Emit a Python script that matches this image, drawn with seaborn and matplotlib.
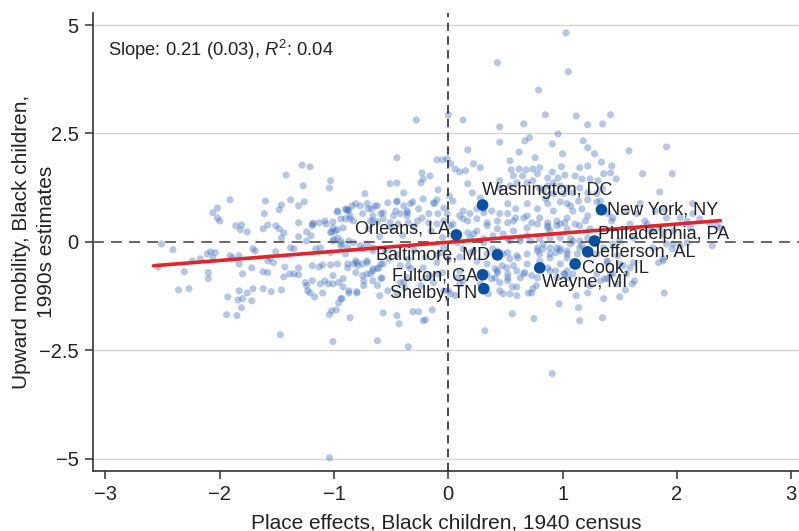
import matplotlib
matplotlib.use("Agg")
import matplotlib.pyplot as plt
import seaborn as sns
import numpy as np
import pandas as pd

# ---------------- data ----------------
counties_x = [
    -2.51, -2.41, -2.06, -2.02, -2.02, -2.00, -1.91, -1.86, -1.81, -1.82, -1.76, -1.60, -1.61, -1.62, -1.58,
    -1.51, -1.48, -1.48, -1.46, -1.42, -1.38, -1.31, -1.31, -1.28, -1.21, -1.27, -1.26, -1.24, -1.19, -1.18,
    -1.20, -1.13, -1.08, -1.07, -1.03, -1.04, -1.01, -1.02, -0.97, -0.97, -0.89, -0.87, -0.86, -0.81, -0.77,
    -0.71, -0.67, -0.64, -0.73, -0.51, -0.45, -0.45, -0.45, -0.59, -0.62, -0.68, -0.94, -1.00, -1.12, -1.16,
    -1.35, -1.38, -1.51, -1.71, -1.69, -1.83, -2.08, -2.11, -2.17, -2.24,
    -2.54, -2.31, -2.10, -2.10, -2.36, -2.27, -1.93, -1.94, -1.85, -1.83, -1.84, -1.80, -1.81, -1.76, -1.71,
    -1.72, -1.83, -1.80, -1.72, -1.62, -1.58, -1.62, -1.55, -1.46, -1.47, -1.43, -1.44, -1.39, -1.35, -1.31,
    -1.31, -1.25, -1.24, -1.23, -1.21, -1.17, -1.19, -1.19, -1.12, -1.10, -1.08, -1.05, -1.13, -1.10, -1.03,
    -0.97, -1.01, -0.96, -0.92, -0.87, -0.80, -0.96, -0.93, -1.04, -1.02, -0.98, -1.01, -0.86, -1.04, -0.74,
    -0.75, -0.71, -0.68, -0.66, -0.61, -0.59, -0.58, -0.60, -0.57, -0.62, -0.45, -0.43, -0.83, -0.79, -0.75,
    -0.71,
    -0.10, -0.05, -0.01, 0.02, 0.06, 0.10, 0.15, 0.22, 0.28, -0.23, -0.24, -0.22, -0.16, -0.39, -0.09,
    -0.45, -0.39, -0.33, -0.31, -0.36, -0.42, -0.48, -0.17, -0.23, -0.27, -0.88, -0.90, -0.83, -0.57, -0.66,
    -0.57, -0.51, -0.36, -0.35, -0.44, -0.17, -0.10, 0.04, 0.13, 0.31, 0.52, 0.57, 0.69, 0.54,
    1.03, 0.43, 1.05, 0.79, -0.28, 0.00, 0.13, 0.45, 0.85, 1.12, 0.66, 1.22, 1.35, 1.42, 0.45,
    0.67, 0.71, 0.96, 0.91, 1.18, 1.22, 1.58, 1.91, 0.62, 0.76, 1.00, 1.28, 0.17, 0.99, 0.55,
    0.62, 0.68, 0.74, 0.80, 0.57, 0.65, 0.78, 0.87, 0.91, 0.96, 1.02, 1.11, 1.17, 1.22, 1.34,
    1.43, 1.36, 1.24, 1.47, 1.70, 1.96, 1.85, 2.14, 0.45, 0.45, 0.54, 0.60, 0.69, 0.74, 0.80,
    0.87, 0.92, 0.98, 1.04, 1.09, 1.01, 0.92, 0.85, 1.15, 1.22, 1.30, 1.35, 1.22, 1.33, 0.17,
    0.21, 0.28, 0.01, 0.04, -0.10, -0.12, -0.04, -0.01, -0.04, -0.09, 0.13, 0.19, 0.25, 0.31, 0.38,
    0.45, 0.52, 0.59, 0.69, 0.78, 0.87, 0.92, 0.98, 1.04, 1.09, 1.17, 1.30, 1.40, 1.44, 1.68,
    1.81, 1.88, 1.91, 2.03, 2.09, 2.14, 2.20, 2.29, 2.31, 2.35, 2.38, 0.17, 0.25, 0.34, 0.43,
    0.52, 0.59, 0.66, 0.73, 0.80, 0.87, 0.95, 1.02, 1.11, 1.20, 1.59, 1.72, 1.79, 1.88, 0.22,
    0.31, 0.39, 0.48, 0.54, 0.63, 0.72, 0.78, 0.83, 0.89, 0.95, 1.04, 1.09, 1.15, 1.22, 1.36,
    1.44, 1.50, 1.62, 1.79, 1.91,
    1.15, 1.42, 1.31, 0.83, 1.07, 1.14, 1.22, 1.04, 0.98, 0.87, 1.43, 1.56, 1.65, 1.74, 1.77,
    1.85, 1.97, 2.12,
    0.91, 0.32, 0.56, 0.75, 1.15, 1.14, 1.35, 0.97, 1.36, 1.50, 1.89, -0.35, -0.31, -0.26, -0.14,
    -0.22, -0.20, 0.45, 0.48, 0.60, 0.70, 0.73, 0.56, 0.60, 0.77, 1.12, 1.22, 1.24, 1.33, 1.39,
    1.44, 1.56, 1.61, 1.63, 1.55, 0.08, 0.10, 0.06, 0.00, 0.38, 0.43, 0.41, 0.47, 0.52, 0.45,
    0.41, 0.51, 0.67, 0.73, 0.78, 0.87, 0.94, 1.01, 0.95, 1.05, 1.09, 1.39, 1.50, 1.62, 1.84,
    1.88, -0.42, -0.35, -0.36, -0.24, -0.20, -0.13, -0.09, -0.05, -0.42, -0.38,
    -0.87, -0.80, -0.94, -0.81, -0.62, -0.57, -0.62, -0.53, -0.45, -0.39, -0.88, -0.93, -0.88, -0.83, -0.77,
    -0.71, -0.66, 0.31, 0.43, 0.48, 0.54, 0.61, 0.69, 0.78, 0.80, 0.63, 0.57, 0.52, 0.54, 0.74,
    0.34, 0.35, 0.28, 0.02, -0.04,
    1.88, 1.96, 1.97, 2.03, 2.09, 1.59, 0.83, 0.89, 0.94, 0.98, 1.07, 1.13, 1.17, 1.04, 1.02,
    1.30, 1.39, 1.48, 1.53, 1.30, 1.37, 1.42, 1.48,
    -2.04, -2.06, -1.91, -1.89, -1.58, -1.53, -1.56,
    -1.44, -1.46, -1.19, -1.31, -1.24, -1.01, -1.03, -0.99, -0.97, -1.01,
    -0.97, -0.90, -0.84, -0.70, -0.62, -0.53, -0.22, -0.13, -0.26, -0.36, -0.46, -0.66, -0.75, -0.86, -0.94,
    -0.92, -0.94, -0.87, -0.90, -0.88, -0.81, -0.66, -0.59, -0.52, -0.71, -0.80, -1.01, -0.92, -0.74, -0.66,
    -0.33, -0.22, -0.16, -0.10, -0.07, -0.04, 0.08, 0.13, 0.17, 0.10, -1.03, -0.66, -0.75,
    -0.70, -0.50, -0.30, -0.15, -0.40, -0.60, -0.05,
    -0.55, -0.45, -0.30, -0.20, -0.10, 0.00, 0.10, 0.20, 0.25, -0.35,
    0.02, 0.25, 0.34, 0.43, 0.57, 0.69, 0.78, 0.87, 0.89, 0.95, 1.04, 1.15, 1.24, 0.19, 0.52,
    0.63, 0.69, 0.80, 0.89, 0.98, 1.07, 1.15, 0.22, 0.34, 0.39, 0.52, 0.60, 0.80, 0.89, 0.98,
    1.04, 0.34, 0.43, 0.60, 0.69, 0.66, 0.89, 0.98, 1.04, 0.10, 0.13, 0.52,
]
counties_y = [
    -0.05, -0.18, 0.67, 0.78, 0.55, 0.48, 0.97, 0.37, 0.39, 0.28, 0.23, 0.94, 0.65, 0.30, 0.39,
    0.37, 0.30, 0.74, 0.85, 1.54, 0.97, 0.83, 0.44, 1.77, 1.73, 1.29, 0.92, 0.23, 0.41, 0.43,
    0.14, 0.44, 0.48, 0.41, 1.41, 1.24, 0.32, 0.23, 0.28, 0.69, 0.74, 0.74, 0.53, 0.88, 0.83,
    0.88, 0.76, 0.83, 1.11, 1.34, 1.36, 1.94, 0.94, 0.65, 0.46, 0.48, 0.02, 0.05, -0.14, -0.16,
    -0.16, -0.14, -0.23, -0.16, -0.21, -0.32, -0.23, -0.28, -0.39, -0.44,
    -0.58, -0.69, -0.71, -0.85, -1.11, -1.08, -1.27, -1.68, -1.70, -1.13, -1.34, -1.31, -1.52, -1.18, -1.08,
    -1.36, -0.51, -0.74, -0.60, -0.69, -0.71, -1.08, -1.15, -1.11, -2.14, -0.58, -0.81, -0.74, -0.74, -0.60,
    -0.76, -0.94, -1.01, -1.13, -1.18, -1.27, -0.55, -0.90, -0.97, -1.18, -0.90, -0.97, -0.58, -0.53, -0.53,
    -0.51, -0.97, -0.94, -1.04, -1.18, -1.15, -1.41, -1.31, -1.68, -1.59, -1.57, -2.30, -1.75, -4.98, -0.90,
    -0.78, -0.74, -0.74, -0.67, -0.60, -0.85, -0.83, -1.24, -1.64, -2.28, -1.70, -1.89, -0.51, -0.55, -0.51,
    -0.48,
    1.89, 1.89, 1.91, 1.80, 1.68, 1.61, 1.64, 1.80, 1.71, 1.59, 1.36, 1.45, 1.52, 1.13, 1.20,
    0.92, 0.83, 0.88, 0.92, 0.71, 0.65, 0.60, 0.65, 0.55, 0.48, 0.71, 0.53, 0.48, 0.67, 0.48,
    0.53, 0.44, 0.60, 0.44, 0.41, 0.44, 0.41, 0.41, 0.53, 0.67, 0.65, 0.48, 0.60, 1.87,
    4.82, 4.13, 3.92, 3.50, 2.81, 2.93, 2.81, 2.65, 2.93, 2.90, 2.72, 2.70, 2.72, 2.93, 2.30,
    2.33, 2.40, 2.49, 2.26, 2.33, 2.17, 2.10, 2.19, 2.07, 1.94, 2.03, 2.03, 2.12, 1.73, 1.66,
    1.68, 1.66, 1.68, 1.71, 1.52, 1.52, 1.57, 1.47, 1.61, 1.47, 1.54, 1.52, 1.45, 1.75, 1.84,
    1.75, 1.57, 1.45, 1.45, 1.57, 1.57, 1.15, 0.88, 1.41, 1.24, 1.29, 1.36, 1.36, 1.41, 1.24,
    1.29, 1.36, 1.29, 1.24, 1.13, 1.11, 1.11, 0.99, 1.24, 1.13, 1.11, 1.22, 0.97, 0.94, 1.34,
    1.13, 1.01, 1.06, 0.94, 0.97, 0.88, 0.78, 0.65, 0.48, 0.65, 0.71, 0.65, 0.76, 0.76, 0.71,
    0.65, 0.88, 0.76, 0.88, 0.76, 0.88, 0.71, 0.92, 0.88, 0.71, 0.76, 0.92, 0.65, 0.55, 0.88,
    0.71, 0.76, 0.55, 0.55, 0.48, 0.65, 0.53, 0.41, -0.09, 0.37, 0.32, 0.48, 0.53, 0.44, 0.48,
    0.44, 0.55, 0.55, 0.44, 0.55, 0.44, 0.48, 0.44, 0.41, 0.48, 0.41, 0.48, 0.25, 0.18, 0.18,
    0.07, 0.14, 0.18, 0.02, 0.09, 0.02, -0.14, -0.16, -0.28, -0.14, -0.21, 0.02, -0.14, 0.09, -0.14,
    -0.05, 0.02, 0.09, -0.14, -0.05,
    1.71, 1.59, 1.41, 1.18, 0.83, 0.94, 0.60, 0.55, 0.41, 0.32, 0.48, 0.71, 0.65, 0.41, 0.25,
    0.32, 0.25, 0.32,
    -3.04, -2.05, -1.66, -1.77, -1.82, -1.52, -1.75, -1.43, -1.31, -1.27, -1.18, -2.42, -1.61, -1.61, -1.57,
    -1.82, -1.80, -1.13, -1.20, -1.24, -1.18, -1.18, -1.04, -1.04, -1.01, -1.24, -1.18, -1.01, -0.90, -0.85,
    -0.74, -0.74, -0.97, -0.90, -1.11, -0.83, -0.97, -1.24, -1.13, -0.85, -0.71, -0.83, -0.55, -0.83, -0.94,
    -0.62, -0.60, -0.71, -0.78, -0.83, -0.60, -0.67, -0.74, -0.83, -0.83, -0.74, -0.48, -0.51, -0.48, -0.48,
    -0.44, -0.55, -0.55, -0.83, -1.01, -0.83, -0.94, -0.74, -0.71, -0.94, -1.06,
    -1.13, -1.18, -1.31, -0.44, -0.62, -0.51, -1.01, -1.13, -1.20, -0.94, -0.51, -0.05, -0.14, -0.02, -0.09,
    -0.05, -0.14, -0.02, -0.21, -0.28, -0.39, -0.37, -0.28, -0.21, -0.44, -0.83, -0.55, -0.74, -1.20, -1.08,
    -0.74, -1.20, -0.97, -1.20, -1.13,
    -0.39, -0.16, -0.05, -0.09, -0.02, -0.60, -0.05, -0.14, -0.25, -0.21, -0.05, -0.28, -0.09, -0.37, -0.74,
    -0.28, -0.44, -0.32, -0.55, -0.74, -0.85, -0.74, -0.97,
    -0.25, -0.37, -0.32, -0.37, -0.44, -0.48, -0.37,
    0.21, 0.09, 0.37, 0.12, 0.02, 0.46, 0.21, 0.25, 0.09, 0.02,
    0.71, 0.76, 0.83, 0.76, 0.83, 0.90, 0.99, 0.90, 0.76, 0.67, 0.71, 0.60, 0.65, 0.60, 0.53,
    0.32, -0.09, 0.02, -0.28, -0.60, -0.71, -0.62, -0.51, -0.39, -0.44, -0.48, -0.78, -0.85, -1.01, -0.90,
    -0.62, -0.60, -0.78, -0.48, -0.25, -0.14, -0.02, -0.16, 0.21, 0.60, -0.25, -0.21, -0.16,
    0.30, 0.33, 0.35, 0.25, 0.15, 0.12, 0.10,
    -0.20, -0.30, -0.20, -0.35, -0.30, -0.40, -0.35, -0.25, -0.45, -0.40,
    0.37, 0.25, 0.37, 0.30, 0.25, 0.32, 0.41, 0.37, 0.25, 0.37, 0.30, 0.37, 0.30, 0.09, 0.07,
    0.02, 0.14, 0.07, 0.09, 0.09, 0.07, 0.02, -0.21, -0.28, -0.16, -0.25, -0.32, -0.28, -0.37, -0.16,
    -0.28, -0.51, -0.67, -0.67, -0.51, -0.74, -0.67, -0.51, -0.67, -0.67, -0.90, -0.90,
]

highlight_names = ["Washington, DC", "New York, NY", "Orleans, LA", "Philadelphia, PA",
                   "Jefferson, AL", "Baltimore, MD", "Cook, IL", "Wayne, MI",
                   "Fulton, GA", "Shelby, TN"]
highlight_x = [0.30, 1.34, 0.07, 1.28, 1.22, 0.43, 1.11, 0.80, 0.30, 0.31]
highlight_y = [0.85, 0.74, 0.16, 0.02, -0.23, -0.30, -0.51, -0.60, -0.76, -1.08]

fit_slope = 0.21
fit_intercept = -0.01
fit_text = r"Slope: 0.21 (0.03), $R^2$: 0.04"

x_ticks = [-3, -2, -1, 0, 1, 2, 3]
x_tick_labels = ["\u22123", "\u22122", "\u22121", "0", "1", "2", "3"]
y_ticks = [-5, -2.5, 0, 2.5, 5]
y_tick_labels = ["\u22125", "\u22122.5", "0", "2.5", "5"]

x_label = "Place effects, Black children, 1940 census"
y_label_lines = ["Upward mobility, Black children,", "1990s estimates"]

# ---------------- plot ----------------
sns.set_theme(style="white")
plt.rcParams["font.family"] = ["Liberation Sans", "DejaVu Sans"]
plt.rcParams["mathtext.fontset"] = "custom"
plt.rcParams["mathtext.it"] = "Liberation Sans:italic"
plt.rcParams["mathtext.rm"] = "Liberation Sans"

fig = plt.figure(figsize=(7.99, 5.31), dpi=100)
ax = fig.add_axes([0.116, 0.113, 0.884, 0.863])

df = pd.DataFrame({"x": counties_x, "y": counties_y})
hl = pd.DataFrame({"x": highlight_x, "y": highlight_y, "name": highlight_names})

# grid lines
for yt in y_ticks:
    if yt != 0:
        ax.axhline(yt, color="#d4d4d4", lw=1.0, zorder=0)

sns.scatterplot(data=df, x="x", y="y", ax=ax, color="#3a6cbf", alpha=0.38,
                s=26, edgecolor="none", linewidth=0, zorder=2)

ax.axvline(0, color="#1a1a1a", lw=1.1, ls=(0, (5.5, 3.5)), zorder=3)
ax.axhline(0, color="#5a5a5a", lw=1.3, ls=(0, (6, 4)), zorder=3)

line_x = np.array([min(counties_x) - 0.04, max(counties_x)])
line_df = pd.DataFrame({"x": line_x, "y": fit_slope * line_x + fit_intercept})
sns.lineplot(data=line_df, x="x", y="y", ax=ax, color="#e3242b", lw=2.6, zorder=4)

sns.scatterplot(data=hl, x="x", y="y", ax=ax, color="#0b4fa3", s=70,
                edgecolor="none", linewidth=0, zorder=5)

label_offsets = {
    "Washington, DC": (-1, 14, "left"),
    "New York, NY": (6, 0, "left"),
    "Orleans, LA": (-6, 6, "right"),
    "Philadelphia, PA": (3, 6, "left"),
    "Jefferson, AL": (3, 0, "left"),
    "Baltimore, MD": (-7, 0, "right"),
    "Cook, IL": (7, -4, "left"),
    "Wayne, MI": (2, -15, "left"),
    "Fulton, GA": (-5, -1, "right"),
    "Shelby, TN": (-6, -5, "right"),
}
for nm, xv, yv in zip(highlight_names, highlight_x, highlight_y):
    dx, dy, ha = label_offsets[nm]
    ax.annotate(nm, (xv, yv), xytext=(dx, dy), textcoords="offset pixels",
                ha=ha, va="center", fontsize=13, color="#222222", zorder=6)

ax.text(0.021, 0.918, fit_text, transform=ax.transAxes, fontsize=13.2,
        color="#222222", ha="left", va="center")

ax.set_xlim(-3.112, 3.069)
ax.set_ylim(-5.285, 5.283)
ax.set_xticks(x_ticks)
ax.set_xticklabels(x_tick_labels)
ax.set_yticks(y_ticks)
ax.set_yticklabels(y_tick_labels)
ax.tick_params(axis="both", which="major", direction="out", length=6, width=1.1,
               color="#333333", labelsize=14.5, labelcolor="#222222", pad=4,
               bottom=True, left=True)

ax.set_xlabel(x_label, fontsize=15, color="#222222")
ax.xaxis.set_label_coords(0.5, -0.092)
ax.set_ylabel("")
ax.text(-0.101, 0.5, y_label_lines[0], transform=ax.transAxes, rotation=90,
        ha="center", va="center", fontsize=15, color="#222222")
ax.text(-0.066, 0.5, y_label_lines[1], transform=ax.transAxes, rotation=90,
        ha="center", va="center", fontsize=15, color="#222222")

for side in ["top", "right"]:
    ax.spines[side].set_visible(False)
for side in ["left", "bottom"]:
    ax.spines[side].set_color("#333333")
    ax.spines[side].set_linewidth(1.2)

fig.savefig("out.png", dpi=100)
